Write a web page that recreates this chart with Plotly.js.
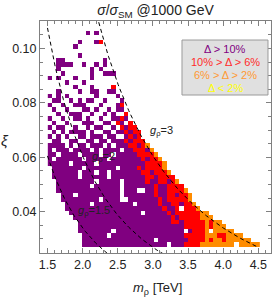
<!DOCTYPE html>
<html><head><meta charset="utf-8">
<script src="https://cdn.plot.ly/plotly-3.0.1.min.js"></script>
<style>html,body{margin:0;padding:0;background:#fff}#chart{width:274px;height:298px}</style>
</head><body><div id="chart"></div>
<script>
// Scan grid (bin centres)
const mStart = 1.535;      // TeV, centre of first m_rho bin
const mStep = 0.0602;      // TeV
const xiTop = 0.10564;     // centre of top xi bin
const xiStep = 0.001653;

// Category of each cell, top row first. P: Δ>10%, R: 10%>Δ>6%, O: 6%>Δ>2%, Y: Δ<2%, '.': no point
const rows = [
".........P|.P",
"",
".......P..|.PR",
"......P",
"",
".......P",
"..PP......|...P",
"..PPPP..P.|.P.P",
"..P.......|P.P",
"...P......|P..PPP",
"P.P...P...|P",
"....P...P",
"......P...|P....R",
"..P....P..|PP..PP",
"P.P.P.....|.P....P",
".PP..P.P.P|P..P...P",
"P..P..PPP.|..P...PR",
".P..P...PP|.P..P.PP",
"..P..PPP..|P..P.P..R",
"P..P..PP.P|..P..PPRP",
".P..P...PP|P..PP.RP.R",
"P.PP..P..P|.PP..P.RPR|R",
".P.P.PPPP.|P..PP.PPRP|RR",
"P.P.P..PP.|PPP.PP..PR|PR",
".PP..PP..P|P.PP.PPPRP|RRR",
"PPPP.P.PP.|PPP.P.PPPR|RPRO",
"P.PPP.PPPP|.P.PPPP.PP|RRRPO",
"PP.PPPP.PP|PP.PP.PPPP|PRRRRO",
"P.PPPPPP.P|PPPP.PPPPP|PPRPRRO",
"PPPPP.PPPP|P.PPPPPPPP|PPPRRRRO",
".PPPPPPP.P|PPPPPP.PPP|PRPRRRRO",
".PPPPPP.PP|P.PP.PPPPP|PPRRPRRRO",
".PPPPPP.PP|PPPP.PPPPP|PPPRRPRRRR",
"..PPPPPPPP|P.PPPPP.PP|PPPRPPRRPR|O",
"..PPPPPPPP|.PPPPPP.PP|PPPPPRPPRR|RR",
"..PPPPPPPP|PPPPPPP.PP|P..PPRPPRR|RRO",
"...PPP.PPP|PPPPPPP.PP|PPPPPRPPRR|PRRO",
"...PPPPPPP|PP.PPPP..P|PPPPPPRPRR|RRRO",
"....PPPPPP|.PPPPPPPPP|.PPPPPRPPR|RPRRO",
"....PPPPPP|PPPPPPPPPP|PPPPPPPRPP|R.RRRO",
".....PPPPP|PPPPPPPPPP|PP.PPPPPRP|RRRRRROO",
"......PPPP|PPPPPPPPPP|PPPPPPPPPR|PRRRRROOO",
".......PPP|PPPPPPPPPP|PPPPPPPPPR|RPRRRRRORO|O",
".......PPP|PPPPPPPPPP|PPPPPPPPPP|PPRRRRRORO|OO",
".......PPP|PPPPP.PPPP|PPPPPPPPPP|PP.PRRRO.O|OOOO",
"........PP|PPPP.PPPPP|PPPPPPPPPP|PPRRRRROOO|RROOOO",
"........PP|PPPPPPPPPP|PPPPP.PPPP|PPPRRRRORO|OROOOOOO",
"........PP|PPPPPPPPPP|PPPPPPPP.P|PPRRRROOOO|OOOO.OOOOO"
];

const categories = ['Δ > 10%', '10% > Δ > 6%', '6% > Δ > 2%', 'Δ < 2%'];
const catCodes = ['P', 'R', 'O', 'Y'];
const catColors = ['#800080', '#ff0000', '#ff8c00', '#ffff00'];
const legendTextColors = ['#800080', '#ff2a2a', '#ff9933', '#ffff00'];

const couplings = [1.5, 2, 3];       // g_rho lines
const vev = 0.246;                   // TeV
const mLineRange = [1.5, 4.5];

const nCols = 50;
const z = rows.slice().reverse().map(r => {
  const s = r.replace(/\|/g, '').padEnd(nCols, '.');
  return Array.from(s).map(c => { const i = catCodes.indexOf(c); return i < 0 ? null : i; });
});

const traces = [{
  type: 'heatmap', z: z,
  x0: mStart, dx: mStep,
  y0: xiTop - (rows.length - 1) * xiStep, dy: xiStep,
  zmin: 0, zmax: 3,
  colorscale: [[0, catColors[0]], [1/3, catColors[1]], [2/3, catColors[2]], [1, catColors[3]]],
  showscale: false, hoverinfo: 'skip'
}];

couplings.forEach(g => {
  const ms = [], xs = [];
  for (let i = 0; i <= 200; i++) {
    const m = mLineRange[0] + (mLineRange[1] - mLineRange[0]) * i / 200;
    ms.push(m); xs.push(Math.pow(g * vev / m, 2));
  }
  traces.push({type: 'scatter', mode: 'lines', x: ms, y: xs,
    line: {color: '#000', width: 1, dash: '4px,3px'}, hoverinfo: 'skip', showlegend: false});
});

const esc = s => s.replace(/</g, '&lt;').replace(/>/g, '&gt;');
const axColor = '#808080';
const layout = {
  width: 274, height: 298,
  margin: {l: 40, r: 3, t: 21, b: 45, pad: 0},
  paper_bgcolor: '#fff', plot_bgcolor: '#fff',
  showlegend: false,
  font: {family: 'Liberation Sans, Arial, sans-serif', size: 12.5, color: '#222'},
  title: {text: '<i>σ</i>/<i>σ</i><sub>SM</sub> @1000 GeV', x: 0.5, xref: 'paper', xanchor: 'center',
          y: 1 - 10 / 298, yref: 'container', yanchor: 'middle', font: {size: 14, color: '#222'}},
  xaxis: {range: [1.3935, 4.680], tickmode: 'linear', tick0: 1.5, dtick: 0.5, tickformat: '.1f',
          ticks: 'inside', ticklen: 5, tickwidth: 1, tickcolor: axColor, showline: true, linecolor: axColor,
          linewidth: 1, mirror: 'allticks', showgrid: false, zeroline: false,
          minor: {tick0: 1.5, dtick: 0.1, ticks: 'inside', ticklen: 3, tickcolor: axColor, showgrid: false}},
  yaxis: {range: [0.02483, 0.11014], tickmode: 'linear', tick0: 0.04, dtick: 0.02, tickformat: '.2f',
          ticks: 'inside', ticklen: 5, tickwidth: 1, tickcolor: axColor, showline: true, linecolor: axColor,
          linewidth: 1, mirror: 'allticks', showgrid: false, zeroline: false,
          minor: {tick0: 0.04, dtick: 0.005, ticks: 'inside', ticklen: 3, tickcolor: axColor, showgrid: false}},
  shapes: [{type: 'rect', xref: 'paper', yref: 'paper', x0: 0.6147, x1: 0.987, y0: 0.681, y1: 0.918,
            fillcolor: '#e0e0e0', line: {color: '#9a9a9a', width: 1}}],
  annotations: [
    {text: '<i>m</i><sub>ρ</sub> [TeV]', xref: 'paper', yref: 'paper', x: 0.5065, y: -0.151,
     showarrow: false, xanchor: 'center', yanchor: 'middle', font: {size: 13, color: '#222'}},
    {text: '<i>ξ</i>', xref: 'paper', yref: 'paper', x: -0.1515, y: 0.4828,
     showarrow: false, xanchor: 'center', yanchor: 'middle', font: {size: 15, color: '#222'}},
    {text: '<i>g</i><sub>ρ</sub>=3', x: 3.126, y: 0.0696, showarrow: false, font: {size: 11, color: '#222'}},
    {text: '<i>g</i><sub>ρ</sub>=2', x: 2.302, y: 0.0601, showarrow: false, font: {size: 11, color: '#222'}},
    {text: '<i>g</i><sub>ρ</sub>=1.5', x: 2.160, y: 0.0403, showarrow: false, font: {size: 11, color: '#222'}}
  ].concat(categories.map((c, i) => ({
    text: esc(c), xref: 'paper', yref: 'paper', x: 0.8009, y: [0.879, 0.823, 0.767, 0.711][i],
    showarrow: false, xanchor: 'center', yanchor: 'middle',
    font: {size: 11, color: legendTextColors[i]}
  })))
};

Plotly.newPlot('chart', traces, layout, {displayModeBar: false});
</script>
</body></html>
